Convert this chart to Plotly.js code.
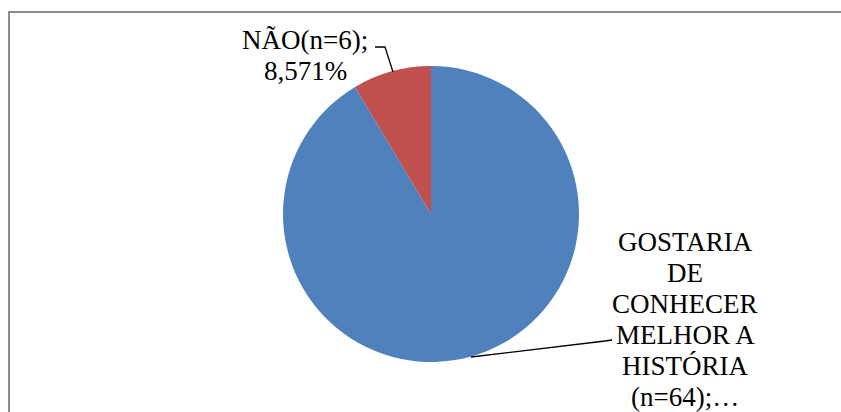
<!DOCTYPE html>
<html>
<head>
<meta charset="utf-8">
<script src="https://cdn.plot.ly/plotly-3.0.1.min.js"></script>
<style>html,body{margin:0;padding:0;background:#fff;}#chart{width:841px;height:412px;}</style>
</head>
<body>
<div id="chart"></div>
<script>
// Data
const categories = ["GOSTARIA DE CONHECER MELHOR A HISTÓRIA", "NÃO"];
const counts = [64, 6];
const percents = ["91,429%", "8,571%"];
const sliceColors = ["#4F81BD", "#C0504D"];
const bigLabelLines = ["GOSTARIA", "DE", "CONHECER", "MELHOR A", "HISTÓRIA", "(n=64);…"];
const smallLabelLines = ["NÃO(n=6);", "8,571%"];

const W = 841, H = 412;
const px = v => v / W;
const py = v => 1 - v / H;

const trace = {
  type: "pie",
  labels: categories,
  values: counts,
  sort: false,
  direction: "clockwise",
  rotation: 0,
  textinfo: "none",
  hoverinfo: "label+value+percent",
  marker: {colors: sliceColors, line: {color: "#ffffff", width: 0}},
  domain: {x: [px(283), px(579)], y: [py(362), py(66)]},
  showlegend: false
};

const font = {family: "Liberation Serif, Times New Roman, serif", size: 27, color: "#000000"};

const annotations = [];
bigLabelLines.forEach((t, i) => annotations.push({
  text: t, xref: "paper", yref: "paper", x: px(685), y: py(242 + 31 * i),
  xanchor: "center", yanchor: "middle", showarrow: false, font: font
}));
smallLabelLines.forEach((t, i) => annotations.push({
  text: t, xref: "paper", yref: "paper", x: px(305), y: py(40 + 31 * i),
  xanchor: "center", yanchor: "middle", showarrow: false, font: font
}));

const layout = {
  width: W, height: H,
  margin: {l: 0, r: 0, t: 0, b: 0},
  paper_bgcolor: "#ffffff",
  showlegend: false,
  annotations: annotations,
  shapes: [
    {type: "path", xref: "paper", yref: "paper",
     path: `M ${px(9)} ${py(1000)} L ${px(9)} ${py(12)} L ${px(900)} ${py(12)}`,
     line: {color: "#8c8c8c", width: 2}},
    {type: "path", xref: "paper", yref: "paper",
     path: `M ${px(375)} ${py(47)} L ${px(385)} ${py(47)} L ${px(393)} ${py(72)}`,
     line: {color: "#000000", width: 1.3}},
    {type: "path", xref: "paper", yref: "paper",
     path: `M ${px(471)} ${py(357)} L ${px(605)} ${py(341)} L ${px(612)} ${py(340)}`,
     line: {color: "#000000", width: 1.3}}
  ]
};

Plotly.newPlot("chart", [trace], layout, {staticPlot: true, displayModeBar: false});
</script>
</body>
</html>
